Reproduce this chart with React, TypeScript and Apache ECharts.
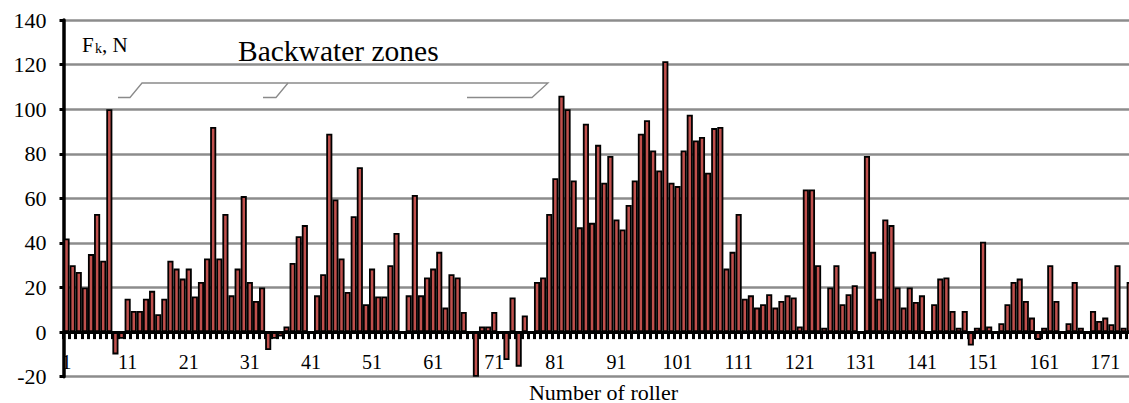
import React, { useEffect, useRef } from "react";
import * as echarts from "echarts";

const ROLLER_COUNT = 175;
const categories: string[] = Array.from({ length: ROLLER_COUNT }, (_, i) => String(i + 1));

// F_k, N for rollers 1..175
const force1to40 = [
  42, 30, 27, 20, 35, 53, 32, 100, -10, -3,
  15, 9.5, 9.5, 15, 18.5, 8, 15, 32, 28.5, 24,
  28.5, 16, 22.5, 33, 92, 33, 53, 16.5, 28.5, 61,
  22.5, 14, 20, -8, -3, -2, 2.5, 31, 43, 48,
];
const force41to80 = [
  0, 16.5, 26, 89, 59.5, 33, 18, 52, 74, 12.5,
  28.5, 16, 16, 30, 44.5, 0, 16.5, 61.5, 16.5, 24.5,
  28.5, 36, 11, 26, 24.5, 9, 0, -20, 2.5, 2.5,
  9, 0, -12.5, 15.5, -15.5, 7.5, 0, 22.5, 24.5, 53,
];
const force81to120 = [
  69, 106, 100, 68, 47, 93.5, 49, 84, 67, 79,
  50.5, 46, 57, 68, 89, 95, 81.5, 72.5, 121.5, 67,
  65.5, 81.5, 97.5, 86, 87.5, 71.5, 91.5, 92, 28.5, 36,
  53, 15, 16.5, 11, 12.5, 17, 11, 14, 16.5, 15.5,
];
const force121to175 = [
  2.5, 64, 64, 30, 2, 20, 30, 12.5, 17, 21,
  0, 79, 36, 15, 50.5, 48, 20, 11, 20, 13.5,
  16.5, 0, 12.5, 24, 24.5, 9.5, 2, 9.5, -6, 2,
  40.5, 2.5, 0, 4, 12.5, 22.5, 24, 14, 6.5, -3.5,
  2, 30, 14, 0, 4, 22.5, 2, 0, 9.5, 5,
  6.5, 3.5, 30, 2, 22.5,
];
const forceValues = [...force1to40, ...force41to80, ...force81to120, ...force121to175];

const Y_MIN = -20;
const Y_MAX = 140;
const Y_STEP = 20;

const SERIF = '"Liberation Serif", "Times New Roman", serif';

export default function App() {
  const ref = useRef<HTMLDivElement>(null);

  useEffect(() => {
    if (!ref.current) return;
    const chart = echarts.init(ref.current, null, { renderer: "svg" });
    const textStyle = (size: number) => ({ fill: "#000", fontSize: size, fontFamily: SERIF });
    chart.setOption({
      animation: false,
      grid: {
        left: 63.5,
        right: -3.75,
        top: 20,
        bottom: 26.3,
        containLabel: false,
        outerBoundsMode: "none",
      },
      xAxis: {
        type: "category",
        data: categories,
        boundaryGap: true,
        axisLine: { onZero: true, lineStyle: { color: "#000", width: 3 } },
        axisTick: { show: true, interval: 0, length: 7, lineStyle: { color: "#000", width: 3 } },
        axisLabel: { interval: 9, margin: -25, fontFamily: SERIF, fontSize: 20, color: "#000" },
        splitLine: { show: false },
      },
      yAxis: {
        type: "value",
        min: Y_MIN,
        max: Y_MAX,
        interval: Y_STEP,
        axisLine: { show: true, lineStyle: { color: "#000", width: 3.5 } },
        axisTick: { show: true, length: 4, lineStyle: { color: "#000", width: 3 } },
        axisLabel: { margin: 17, fontFamily: SERIF, fontSize: 22, color: "#000" },
        splitLine: { show: true, lineStyle: { color: "#8c8c8c", width: 2.5 } },
      },
      series: [
        {
          type: "bar",
          data: forceValues,
          barCategoryGap: "0%",
          itemStyle: { color: "#c0504d", borderColor: "#000", borderWidth: 1.8 },
        },
      ],
      graphic: [
        {
          type: "polyline",
          shape: { points: [[118, 97.5], [130, 97.5], [142, 83], [548, 83], [532, 97.5], [467, 97.5]] },
          style: { stroke: "#8a8a8a", lineWidth: 1.3, fill: null },
          z: 10,
        },
        {
          type: "polyline",
          shape: { points: [[263, 97.5], [276, 97.5], [288, 83]] },
          style: { stroke: "#8a8a8a", lineWidth: 1.3, fill: null },
          z: 10,
        },
        {
          type: "text", x: 238, y: 51, z: 10,
          style: { ...textStyle(29.5), text: "Backwater zones", align: "left", verticalAlign: "middle" },
        },
        {
          type: "text", x: 82, y: 45, z: 10,
          style: { ...textStyle(21), text: "F", align: "left", verticalAlign: "middle" },
        },
        {
          type: "text", x: 95, y: 48.5, z: 10,
          style: { ...textStyle(14), text: "k", align: "left", verticalAlign: "middle" },
        },
        {
          type: "text", x: 102, y: 45, z: 10,
          style: { ...textStyle(21), text: ", N", align: "left", verticalAlign: "middle" },
        },
        {
          type: "text", x: 603.5, y: 392, z: 10,
          style: { ...textStyle(22), text: "Number of roller", align: "center", verticalAlign: "middle" },
        },
      ],
    });
    return () => chart.dispose();
  }, []);

  return (
    <div
      ref={ref}
      style={{ position: "absolute", left: 0, top: 0, width: 1129, height: 403, overflow: "hidden", background: "#fff" }}
    />
  );
}
